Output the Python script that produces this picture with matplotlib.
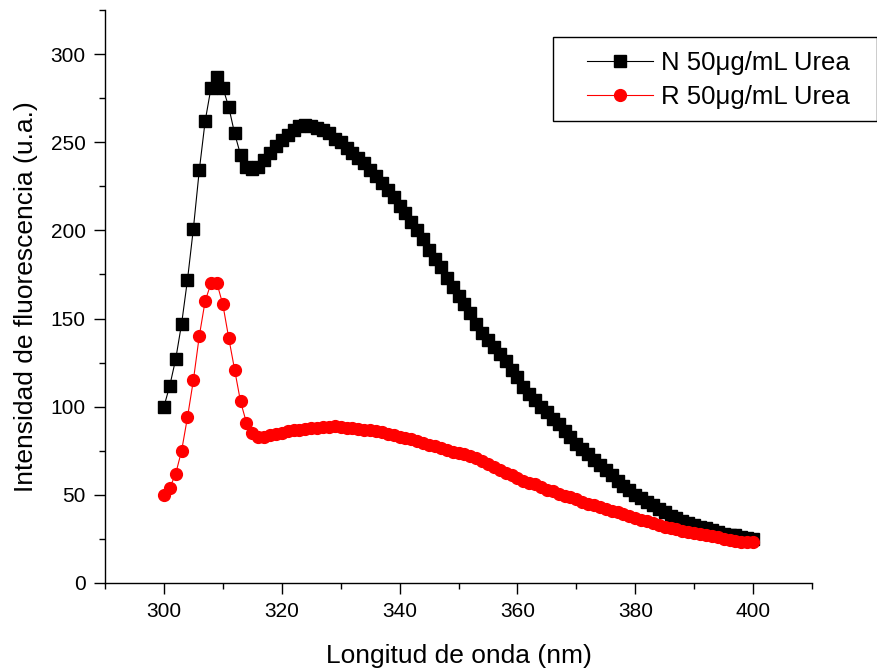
import numpy as np
import matplotlib.pyplot as plt
from matplotlib.patches import Rectangle
from matplotlib.ticker import MultipleLocator

plt.rcParams['font.family'] = ['Liberation Sans', 'DejaVu Sans']

# Longitud de onda (nm)
longitud = np.arange(300, 401)

# N 50ug/mL Urea
intens_n = [100, 112, 127, 147, 172, 201, 234, 262, 281, 287,
            281, 270, 255, 243, 236, 235, 236, 240, 244, 248,
            251, 254, 257, 259, 260, 259, 258, 257, 255, 252,
            250, 247, 244, 241, 238, 234, 231, 227, 223, 219,
            214, 210, 205, 200, 195, 189, 184, 179, 173, 168,
            163, 158, 153, 147, 142, 138, 134, 130, 126, 121,
            117, 111, 107, 104, 100, 97, 93, 90, 86, 83,
            79, 76, 73, 70, 67, 64, 61, 58, 55, 53,
            50, 48, 46, 44, 42, 40, 38, 37, 35, 34,
            33, 32, 31, 30, 29, 28, 27.5, 27, 26, 25.5,
            25]

# R 50ug/mL Urea
intens_r = [50, 54, 62, 75, 94, 115, 140, 160, 170, 170,
            158, 139, 121, 103, 91, 85, 83, 83, 84, 84.5,
            85, 86, 86.5, 87, 87.5, 88, 88, 88.5, 88.5, 89,
            88.5, 88, 88, 87.5, 87, 86.5, 86, 85.5, 84.5, 84,
            83, 82, 81.5, 80.5, 79.5, 78.5, 77.5, 76.5, 75.5, 74.5,
            74, 73, 72, 71, 69, 67.5, 66, 64, 62.5, 61,
            59.5, 58, 57, 56, 54.5, 53, 52, 50.5, 49.5, 48.5,
            47.5, 46, 45, 44, 43, 42, 41, 40, 39, 38,
            37, 36, 35, 34, 33, 32, 31, 30.5, 29.5, 29,
            28.5, 28, 27, 26.5, 26, 25, 24.5, 24, 23.5, 23,
            23]

W, H = 878, 668
fig = plt.figure(figsize=(W / 100, H / 100), dpi=100)
ax = fig.add_axes([105 / W, 1 - 583 / H, 707 / W, 573 / H])

ax.plot(longitud, intens_n, color='black', marker='s', markersize=8,
        linewidth=0.8, label='N 50\u03bcg/mL Urea')
ax.plot(longitud, intens_r, color='red', marker='o', markersize=8.5,
        linewidth=0.8, label='R 50\u03bcg/mL Urea')

ax.set_xlim(290, 410)
ax.set_ylim(0, 325)
ax.xaxis.set_major_locator(MultipleLocator(20))
ax.xaxis.set_minor_locator(MultipleLocator(10))
ax.yaxis.set_major_locator(MultipleLocator(50))
ax.yaxis.set_minor_locator(MultipleLocator(25))

for s in ['top', 'right']:
    ax.spines[s].set_visible(False)
for s in ['left', 'bottom']:
    ax.spines[s].set_linewidth(1.0)

ax.tick_params(which='major', direction='out', length=8, width=1.0,
               labelsize=15, pad=6)
ax.tick_params(which='minor', direction='out', length=4, width=1.0)

ax.set_xlabel('Longitud de onda (nm)', fontsize=19, labelpad=16)
ax.set_ylabel('Intensidad de fluorescencia (u.a.)', fontsize=19, labelpad=9)

# caja de la leyenda
fig.patches.append(Rectangle((553 / W, 1 - 121 / H), 324 / W, 84 / H,
                             transform=fig.transFigure, fill=False,
                             edgecolor='black', linewidth=1.0))
leg = ax.legend(loc='upper left', bbox_to_anchor=(587 / W, 1 - 51 / H),
                bbox_transform=fig.transFigure, borderaxespad=0,
                borderpad=0, fontsize=18.5, frameon=False,
                handlelength=2.57, handletextpad=0.3, labelspacing=0.4)

fig.savefig('out.png', dpi=100)
